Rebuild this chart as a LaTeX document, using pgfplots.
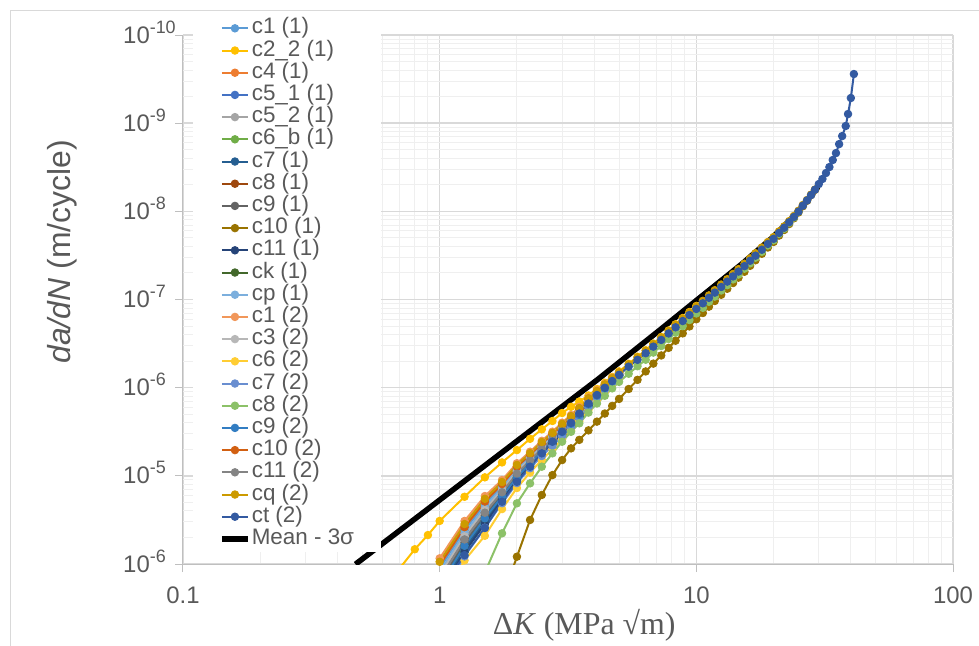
\documentclass[border=0pt]{standalone}
\usepackage{fontspec}
\setmainfont{Liberation Sans}
\newfontfamily\timesfont{Liberation Serif}
\usepackage{pgfplots}
\usepackage{pgfplotstable}
\pgfplotsset{compat=1.18}

\definecolor{txtgray}{HTML}{595959}
\definecolor{gridmaj}{HTML}{D9D9D9}
\definecolor{gridmin}{HTML}{EFEFEF}
\definecolor{axgray}{HTML}{BFBFBF}
\definecolor{sA}{HTML}{5B9BD5}
\definecolor{sB}{HTML}{FFC000}
\definecolor{sC}{HTML}{ED7D31}
\definecolor{sD}{HTML}{4472C4}
\definecolor{sE}{HTML}{A5A5A5}
\definecolor{sF}{HTML}{70AD47}
\definecolor{sG}{HTML}{255E91}
\definecolor{sH}{HTML}{9E480E}
\definecolor{sI}{HTML}{636363}
\definecolor{sJ}{HTML}{997300}
\definecolor{sK}{HTML}{264478}
\definecolor{sL}{HTML}{43682B}
\definecolor{sM}{HTML}{7CAFDD}
\definecolor{sN}{HTML}{F1975A}
\definecolor{sO}{HTML}{B7B7B7}
\definecolor{sP}{HTML}{FFCD33}
\definecolor{sQ}{HTML}{698ED0}
\definecolor{sR}{HTML}{8CC168}
\definecolor{sS}{HTML}{327DC2}
\definecolor{sT}{HTML}{D26012}
\definecolor{sU}{HTML}{848484}
\definecolor{sV}{HTML}{CC9A00}
\definecolor{sW}{HTML}{335AA1}

\newcommand\ee[1]{10\raisebox{10bp}{\fontsize{18}{18}\selectfont #1}}

\pgfplotsset{
  ser/.style={color=#1, mark=*, line width=2bp, mark size=3.8bp,
    mark options={solid, fill=#1, draw=#1, line width=0.8bp}},
}

% near-threshold part of the specimen curves (da/dN in m/cycle)
\pgfplotstableread{
dK    L00      L14      L21      L28      L35      L42      L49      L56      L63      L70      L80      L100
1.00  1.16e-10 9.73e-11 8.90e-11 8.10e-11 7.50e-11 6.80e-11 6.20e-11 5.70e-11 5.20e-11 4.80e-11 4.20e-11 3.30e-11
1.25  3.08e-10 2.62e-10 2.42e-10 2.23e-10 2.06e-10 1.90e-10 1.75e-10 1.61e-10 1.49e-10 1.37e-10 1.22e-10 1.10e-10
1.50  5.90e-10 5.11e-10 4.75e-10 4.42e-10 4.11e-10 3.82e-10 3.55e-10 3.30e-10 3.07e-10 2.86e-10 2.58e-10 2.09e-10
1.75  8.97e-10 8.07e-10 7.65e-10 7.26e-10 6.88e-10 6.52e-10 6.18e-10 5.86e-10 5.56e-10 5.27e-10 4.89e-10 4.20e-10
2.00  1.39e-9  1.27e-9  1.21e-9  1.16e-9  1.11e-9  1.06e-9  1.01e-9  9.66e-10 9.24e-10 8.83e-10 8.28e-10 7.28e-10
2.25  1.88e-9  1.74e-9  1.68e-9  1.62e-9  1.56e-9  1.50e-9  1.44e-9  1.39e-9  1.34e-9  1.29e-9  1.22e-9  1.09e-9
2.50  2.50e-9  2.33e-9  2.25e-9  2.18e-9  2.10e-9  2.03e-9  1.96e-9  1.90e-9  1.83e-9  1.77e-9  1.68e-9  1.52e-9
2.75  3.17e-9  2.97e-9  2.88e-9  2.79e-9  2.70e-9  2.61e-9  2.53e-9  2.45e-9  2.37e-9  2.30e-9  2.19e-9  2.00e-9
3.00  4.01e-9  3.77e-9  3.66e-9  3.55e-9  3.44e-9  3.34e-9  3.24e-9  3.14e-9  3.04e-9  2.95e-9  2.83e-9  2.59e-9
3.25  4.90e-9  4.63e-9  4.50e-9  4.38e-9  4.25e-9  4.14e-9  4.02e-9  3.91e-9  3.80e-9  3.69e-9  3.55e-9  3.27e-9
3.50  6.03e-9  5.72e-9  5.58e-9  5.43e-9  5.30e-9  5.16e-9  5.03e-9  4.90e-9  4.78e-9  4.66e-9  4.49e-9  4.17e-9
3.80  7.76e-9  7.42e-9  7.26e-9  7.09e-9  6.93e-9  6.78e-9  6.63e-9  6.48e-9  6.34e-9  6.19e-9  6.00e-9  5.62e-9
4.10  9.38e-9  9.05e-9  8.89e-9  8.73e-9  8.58e-9  8.43e-9  8.28e-9  8.14e-9  7.99e-9  7.85e-9  7.66e-9  7.28e-9
4.40  1.107e-8 1.075e-8 1.060e-8 1.044e-8 1.029e-8 1.014e-8 1.000e-8 9.85e-9  9.71e-9  9.57e-9  9.38e-9  8.99e-9
4.70  1.302e-8 1.271e-8 1.256e-8 1.240e-8 1.225e-8 1.211e-8 1.196e-8 1.182e-8 1.167e-8 1.153e-8 1.134e-8 1.095e-8
5.00  1.496e-8 1.467e-8 1.453e-8 1.439e-8 1.426e-8 1.412e-8 1.398e-8 1.385e-8 1.371e-8 1.358e-8 1.340e-8 1.303e-8
}\bundle

\begin{document}
\begin{tikzpicture}
\useasboundingbox (0bp,0bp) rectangle (979bp,646bp);
\draw[gridmaj, line width=1bp] (10.5bp,-5bp) -- (10.5bp,635.5bp) -- (990bp,635.5bp);
\begin{axis}[
  at={(183bp,82bp)}, anchor=south west,
  scale only axis, width=770bp, height=529bp,
  xmode=log, ymode=log,
  xmin=0.1, xmax=100, ymin=1e-10, ymax=1e-4,
  axis lines*=left,
  axis line style={axgray, line width=1bp},
  xtick={0.1,1,10,100}, xticklabels={0.1,1,10,100},
  ytick={1e-10,1e-9,1e-8,1e-7,1e-6,1e-5,1e-4},
  yticklabels={\ee{-6},\ee{-5},\ee{-6},\ee{-7},\ee{-8},\ee{-9},\ee{-10}},
  minor xtick={0.2,0.3,0.4,0.5,0.6,0.7,0.8,0.9,2,3,4,5,6,7,8,9,20,30,40,50,60,70,80,90},
  minor ytick={2e-10,3e-10,4e-10,5e-10,6e-10,7e-10,8e-10,9e-10,
               2e-9,3e-9,4e-9,5e-9,6e-9,7e-9,8e-9,9e-9,
               2e-8,3e-8,4e-8,5e-8,6e-8,7e-8,8e-8,9e-8,
               2e-7,3e-7,4e-7,5e-7,6e-7,7e-7,8e-7,9e-7,
               2e-6,3e-6,4e-6,5e-6,6e-6,7e-6,8e-6,9e-6,
               2e-5,3e-5,4e-5,5e-5,6e-5,7e-5,8e-5,9e-5},
  grid=both,
  major grid style={gridmaj, line width=1.4bp},
  minor grid style={gridmin, line width=1bp},
  tick align=outside, major tick length=8bp, minor tick length=0bp,
  tick style={axgray, line width=1bp},
  ticklabel style={font=\fontsize{24}{24}\selectfont, text=txtgray},
  xticklabel style={anchor=base, yshift=-31bp, inner sep=0bp},
  yticklabel style={anchor=base west, xshift=-52bp, yshift=-8bp, inner sep=0bp},
  xlabel={\timesfont Δ\textit{K} (MPa √m)},
  xlabel style={at={(axis description cs:0.521,-0.134)}, anchor=base,
    font=\fontsize{32}{32}\selectfont, text=txtgray},
  ylabel={\textit{da/dN} (m/cycle)},
  ylabel style={at={(axis description cs:-0.157,0.590)}, anchor=center,
    font=\fontsize{32}{32}\selectfont, text=txtgray},
  legend style={at={(axis description cs:0.013,1.0378)}, anchor=north west,
    draw=none, fill=white, font=\fontsize{22.5}{22.5}\selectfont, text=txtgray,
    inner xsep=26bp, inner ysep=2bp, row sep=0bp,
    nodes={inner sep=1.1bp, text height=15.6bp, text depth=4.4bp}},
  legend cell align=left,
  legend image code/.code={\draw[mark repeat=2, mark phase=2]
    plot coordinates {(0bp,0bp) (13bp,0bp) (26bp,0bp)};},
]
\addplot[ser=sA] table[x=dK, y=L21] {\bundle};
\addlegendentry{c1 (1)}
\addplot[ser=sB] coordinates {
  (0.7,9.0e-11) (0.8,1.47e-10) (0.9,2.13e-10) (1.0,3.08e-10) (1.25,5.79e-10)
  (1.5,9.62e-10) (1.75,1.42e-9) (2.0,1.96e-9) (2.25,2.63e-9) (2.5,3.37e-9)
  (2.75,4.19e-9) (3.0,5.16e-9) (3.25,6.07e-9) (3.5,6.97e-9) (3.8,8.15e-9)
  (4.1,9.66e-9) (4.4,1.138e-8) (4.7,1.324e-8) (5.0,1.531e-8) (5.45,1.866e-8)
  (5.9,2.244e-8) (6.35,2.661e-8) (6.8,3.162e-8) (7.3,3.758e-8) (7.8,4.457e-8)
  (8.3,5.236e-8) (8.85,6.166e-8) (9.4,7.211e-8) (10.0,8.453e-8)};
\addlegendentry{c2\_2 (1)}
\addplot[ser=sC] table[x=dK, y=L14] {\bundle};
\addlegendentry{c4 (1)}
\addplot[ser=sD] table[x=dK, y=L63] {\bundle};
\addlegendentry{c5\_1 (1)}
\addplot[ser=sE] table[x=dK, y=L35] {\bundle};
\addlegendentry{c5\_2 (1)}
\addplot[ser=sF] table[x=dK, y=L70] {\bundle};
\addlegendentry{c6\_b (1)}
\addplot[ser=sG] table[x=dK, y=L63] {\bundle};
\addlegendentry{c7 (1)}
\addplot[ser=sH] table[x=dK, y=L42] {\bundle};
\addlegendentry{c8 (1)}
\addplot[ser=sI] table[x=dK, y=L49] {\bundle};
\addlegendentry{c9 (1)}
\addplot[ser=sJ] coordinates {
  (1.75,4.0e-11) (2.0,1.21e-10) (2.25,3.16e-10) (2.5,6.07e-10) (2.75,1.02e-9)
  (3.0,1.51e-9) (3.25,2.05e-9) (3.5,2.56e-9) (3.8,3.28e-9) (4.1,4.12e-9)
  (4.4,5.09e-9) (4.7,6.21e-9) (5.0,7.46e-9) (5.45,9.66e-9) (5.9,1.227e-8)
  (6.35,1.528e-8) (6.8,1.875e-8) (7.3,2.32e-8) (7.8,2.83e-8) (8.3,3.41e-8)
  (8.85,4.13e-8) (9.4,4.95e-8) (10.0,5.97e-8) (10.6,7.03e-8) (11.2,8.30e-8)
  (11.8,9.62e-8) (12.5,1.132e-7) (13.2,1.324e-7) (13.9,1.538e-7) (14.6,1.770e-7)
  (15.4,2.065e-7) (16.2,2.410e-7) (17,2.786e-7) (18,3.304e-7) (19,3.890e-7)
  (20,4.498e-7) (21,5.309e-7) (22,6.152e-7) (23,7.178e-7) (24,8.337e-7)
  (25,9.70e-7) (26,1.143e-6) (27,1.318e-6) (28,1.535e-6) (29,1.762e-6)};
\addlegendentry{c10 (1)}
\addplot[ser=sK] table[x=dK, y=L70] {\bundle};
\addlegendentry{c11 (1)}
\addplot[ser=sL] table[x=dK, y=L56] {\bundle};
\addlegendentry{ck (1)}
\addplot[ser=sM] table[x=dK, y=L28] {\bundle};
\addlegendentry{cp (1)}
\addplot[ser=sN] table[x=dK, y=L00] {\bundle};
\addlegendentry{c1 (2)}
\addplot[ser=sO] table[x=dK, y=L35] {\bundle};
\addlegendentry{c3 (2)}
\addplot[ser=sP] table[x=dK, y=L100] {\bundle};
\addlegendentry{c6 (2)}
\addplot[ser=sQ] table[x=dK, y=L80] {\bundle};
\addlegendentry{c7 (2)}
\addplot[ser=sR] coordinates {
  (1.5,8.0e-11) (1.75,2.23e-10) (2.0,4.88e-10) (2.25,8.22e-10) (2.5,1.27e-9)
  (2.75,1.80e-9) (3.0,2.44e-9) (3.25,3.16e-9) (3.5,3.94e-9) (3.8,5.22e-9)
  (4.1,6.62e-9) (4.4,8.09e-9) (4.7,9.82e-9) (5.0,1.164e-8) (5.45,1.439e-8)
  (5.9,1.750e-8) (6.35,2.075e-8) (6.8,2.50e-8) (7.3,2.97e-8) (7.8,3.57e-8)
  (8.3,4.20e-8) (8.85,5.00e-8) (9.4,5.85e-8) (10.0,6.95e-8) (10.6,8.05e-8)
  (11.2,9.42e-8) (11.8,1.079e-7) (12.5,1.265e-7) (13.2,1.455e-7) (13.9,1.690e-7)
  (14.6,1.919e-7) (15.4,2.239e-7) (16.2,2.576e-7) (17,2.98e-7) (18,3.48e-7)
  (19,4.10e-7) (20,4.69e-7) (21,5.55e-7) (22,6.35e-7) (23,7.41e-7)
  (24,8.51e-7) (25,9.93e-7)};
\addlegendentry{c8 (2)}
\addplot[ser=sS] table[x=dK, y=L56] {\bundle};
\addlegendentry{c9 (2)}
\addplot[ser=sT] table[x=dK, y=L14] {\bundle};
\addlegendentry{c10 (2)}
\addplot[ser=sU] table[x=dK, y=L42] {\bundle};
\addlegendentry{c11 (2)}
\addplot[ser=sV] coordinates {
  (1.0,1.06e-10) (1.25,2.84e-10) (1.5,5.49e-10) (1.75,8.51e-10) (2.0,1.33e-9)
  (2.25,1.81e-9) (2.5,2.42e-9) (2.75,3.07e-9) (3.0,3.89e-9) (3.25,4.76e-9)
  (3.5,5.87e-9) (3.8,7.59e-9) (4.1,9.20e-9) (4.4,1.091e-8) (4.7,1.285e-8)
  (5.0,1.489e-8) (5.45,1.84e-8) (5.9,2.21e-8) (6.35,2.62e-8) (6.8,3.12e-8)
  (7.3,3.71e-8) (7.8,4.40e-8) (8.3,5.16e-8) (8.85,6.08e-8) (9.4,7.11e-8)
  (10.0,8.34e-8) (10.6,9.66e-8) (11.2,1.114e-7) (11.8,1.276e-7) (12.5,1.479e-7)
  (13.2,1.702e-7) (13.9,1.950e-7) (14.6,2.213e-7) (15.4,2.547e-7) (16.2,2.93e-7)
  (17,3.35e-7) (18,3.89e-7) (19,4.49e-7) (20,5.11e-7) (21,5.93e-7)
  (22,6.76e-7) (23,7.76e-7) (24,8.87e-7) (25,1.016e-6) (26,1.180e-6)
  (27,1.346e-6) (28,1.549e-6) (29,1.76e-6)};
\addlegendentry{cq (2)}
\addplot[ser=sW] coordinates {
  (1.0,5.0e-11) (1.25,1.26e-10) (1.5,2.56e-10) (1.75,5.09e-10) (2.0,8.57e-10)
  (2.25,1.27e-9) (2.5,1.80e-9) (2.75,2.44e-9) (3.0,3.17e-9) (3.25,3.99e-9)
  (3.5,5.09e-9) (3.8,6.61e-9) (4.1,8.26e-9) (4.4,9.98e-9) (4.7,1.19e-8)
  (5.0,1.40e-8) (5.45,1.73e-8) (5.9,2.07e-8) (6.35,2.46e-8) (6.8,2.92e-8)
  (7.3,3.48e-8) (7.8,4.12e-8) (8.3,4.84e-8) (8.85,5.70e-8) (9.4,6.67e-8)
  (10.0,7.82e-8) (10.6,9.06e-8) (11.2,1.045e-7) (11.8,1.197e-7) (12.5,1.387e-7)
  (13.2,1.596e-7) (13.9,1.828e-7) (14.6,2.075e-7) (15.4,2.39e-7) (16.2,2.75e-7)
  (17,3.14e-7) (18,3.67e-7) (19,4.27e-7) (20,4.88e-7) (21,5.69e-7)
  (22,6.52e-7) (23,7.52e-7) (24,8.63e-7) (25,9.93e-7) (26,1.16e-6)
  (27,1.33e-6) (28,1.53e-6) (29,1.76e-6) (30,2.04e-6) (31,2.33e-6)
  (32,2.72e-6) (33,3.18e-6) (34,3.82e-6) (35,4.58e-6) (36,5.79e-6)
  (37,7.14e-6) (38.2,9.29e-6) (39,1.27e-5) (40,1.93e-5) (41.1,3.61e-5)};
\addlegendentry{ct (2)}
\addplot[black, line width=5.5bp, no markers] coordinates {
  (0.47,9.95e-11) (1.0,5.32e-10) (2.0,2.48e-9) (4.1,1.22e-8) (7.21,4.51e-8)
  (10.05,9.86e-8) (12.5,1.64e-7) (15.19,2.59e-7) (17.3,3.60e-7) (19.7,4.98e-7)
  (22,6.87e-7) (24.66,9.57e-7) (27.3,1.38e-6) (29.77,1.89e-6)};
\addlegendentry{Mean - 3σ}
\end{axis}
\end{tikzpicture}
\end{document}
